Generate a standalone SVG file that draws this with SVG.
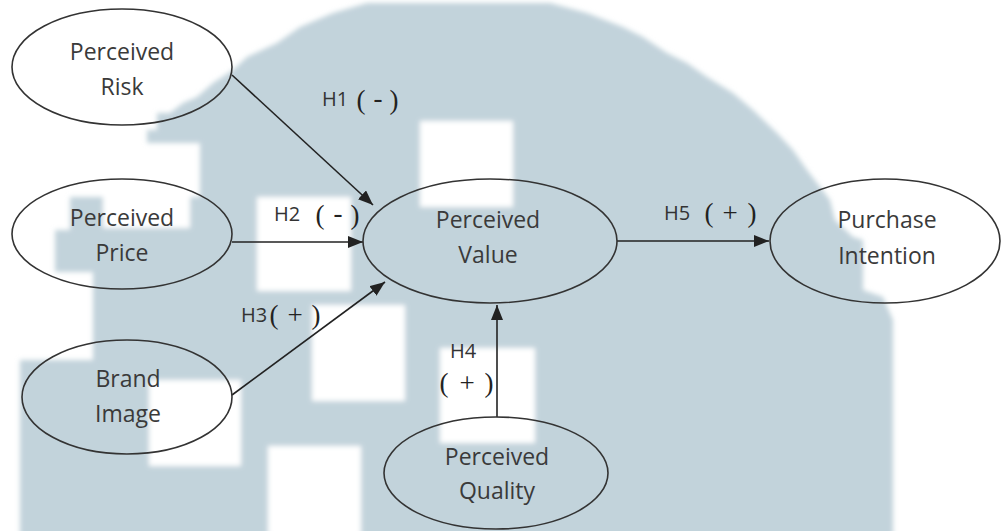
<svg xmlns="http://www.w3.org/2000/svg" width="1001" height="531" viewBox="0 0 1001 531">
  <defs>
    <style>
      .node { fill: none; stroke: #333; stroke-width: 1.6; }
      .label { font-family: "Open Sans", "Noto Sans", "DejaVu Sans", sans-serif; font-size: 23px; fill: #3a3a3a; text-anchor: middle; }
      .h { font-family: "Open Sans", "Noto Sans", "DejaVu Sans", sans-serif; font-size: 20px; fill: #333; }
      .p { font-family: "Liberation Serif", "DejaVu Serif", serif; font-size: 27px; font-weight: normal; fill: #222; text-anchor: middle; }
      .edge { stroke: #222; stroke-width: 1.6; fill: none; marker-end: url(#arrow); }
    </style>
    <marker id="arrow" markerUnits="userSpaceOnUse" markerWidth="16" markerHeight="12" viewBox="0 0 16 12" refX="15" refY="6" orient="auto">
      <path d="M0,0 L15,6 L0,12 Z" fill="#222"/>
    </marker>
    <filter id="soft" filterUnits="userSpaceOnUse" x="-20" y="-20" width="1041" height="571">
      <feGaussianBlur stdDeviation="2.5"/>
    </filter>
  </defs>

  <rect x="0" y="0" width="1001" height="531" fill="#ffffff"/>

  <!-- background mosaic shape -->
  <g id="backdrop" filter="url(#soft)">
    <polygon fill="#c2d3db" points="367,3 550,3 587,13 623,27 643,37 667,53 687,63 707,77 733,93 753,110 777,133 793,150 807,170 817,183 830,200 835,220 853,237 863,240 863,290 883,297 893,320 893,540 20,540 20,360 93,360 93,272 55,272 55,230 70,230 70,197 200,197 200,143 147,143 147,130 157,130 157,113 170,113 183,103 197,97 213,83 233,70 247,57 277,43 300,27 333,13"/>
    <g fill="#ffffff">
      <rect x="103" y="197" width="87" height="31"/>
      <rect x="420" y="121" width="93" height="86"/>
      <rect x="257" y="197" width="94" height="94"/>
      <rect x="312" y="305" width="93" height="96"/>
      <rect x="440" y="348" width="95" height="95"/>
      <rect x="149" y="380" width="92" height="86"/>
      <rect x="268" y="446" width="93" height="90"/>
    </g>
  </g>

  <!-- connectors -->
  <g id="connectors">
    <line class="edge" x1="232" y1="75" x2="373" y2="205"/>
    <line class="edge" x1="232" y1="242" x2="363" y2="242"/>
    <line class="edge" x1="232" y1="395" x2="385" y2="282"/>
    <line class="edge" x1="497" y1="417" x2="497" y2="305"/>
    <line class="edge" x1="617" y1="241" x2="769" y2="241"/>
  </g>

  <!-- connector labels -->
  <g id="edge-labels">
    <text><tspan class="h" x="322" y="106">H1</tspan><tspan class="p" x="361" y="109">(</tspan><tspan class="p" x="378" y="107">-</tspan><tspan class="p" x="394" y="109">)</tspan></text>
    <text><tspan class="h" x="274" y="221">H2</tspan><tspan class="p" x="320" y="224">(</tspan><tspan class="p" x="338" y="222">-</tspan><tspan class="p" x="355" y="224">)</tspan></text>
    <text><tspan class="h" x="241" y="322">H3</tspan><tspan class="p" x="274" y="324">(</tspan><tspan class="p" x="295" y="324">+</tspan><tspan class="p" x="316" y="324">)</tspan></text>
    <text><tspan class="h" x="450" y="358">H4</tspan></text>
    <text><tspan class="p" x="444" y="392">(</tspan><tspan class="p" x="467" y="392">+</tspan><tspan class="p" x="489" y="392">)</tspan></text>
    <text><tspan class="h" x="664" y="220">H5</tspan><tspan class="p" x="709" y="222">(</tspan><tspan class="p" x="730" y="222">+</tspan><tspan class="p" x="752" y="222">)</tspan></text>
  </g>

  <g id="perceived-risk">
    <ellipse class="node" cx="122" cy="67" rx="110" ry="58"/>
    <text class="label" x="122" y="60">Perceived</text>
    <text class="label" x="122" y="95">Risk</text>
  </g>

  <g id="perceived-price">
    <ellipse class="node" cx="122" cy="234" rx="110" ry="55"/>
    <text class="label" x="122" y="226">Perceived</text>
    <text class="label" x="122" y="261">Price</text>
  </g>

  <g id="brand-image">
    <ellipse class="node" cx="127" cy="397" rx="105" ry="57"/>
    <text class="label" x="128" y="387">Brand</text>
    <text class="label" x="128" y="422">Image</text>
  </g>

  <g id="perceived-value">
    <ellipse class="node" cx="490" cy="241" rx="127" ry="62"/>
    <text class="label" x="488" y="228">Perceived</text>
    <text class="label" x="488" y="263">Value</text>
  </g>

  <g id="purchase-intention">
    <ellipse class="node" cx="885" cy="241" rx="115" ry="62"/>
    <text class="label" x="887" y="228">Purchase</text>
    <text class="label" x="887" y="264">Intention</text>
  </g>

  <g id="perceived-quality">
    <ellipse class="node" cx="496" cy="473" rx="112" ry="56"/>
    <text class="label" x="497" y="465">Perceived</text>
    <text class="label" x="497" y="499">Quality</text>
  </g>
</svg>
